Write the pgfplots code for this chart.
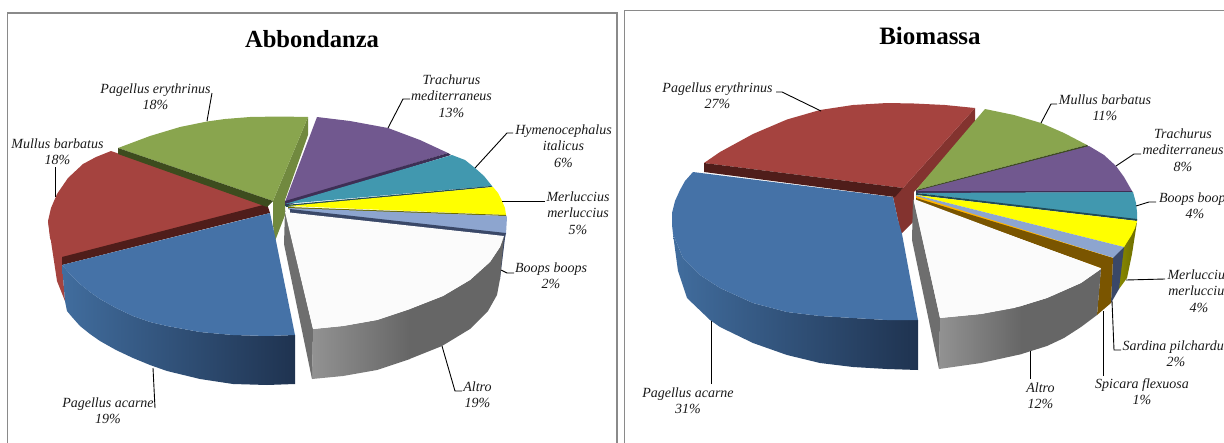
\documentclass[border=0pt]{standalone}
\usepackage{pgfplots}
\pgfplotsset{compat=1.18}
\usepackage{fontspec}
\setmainfont{Liberation Serif}
\definecolor{cRed}{HTML}{A5433F}
\definecolor{cRedWall}{HTML}{83332F}
\definecolor{cRedDark}{HTML}{4F1D1A}
\definecolor{cGreen}{HTML}{89A54E}
\definecolor{cGreenWall}{HTML}{71893F}
\definecolor{cGreenDark}{HTML}{3D4C1E}
\definecolor{cPurple}{HTML}{71588F}
\definecolor{cPurpleDark}{HTML}{3E2F55}
\definecolor{cTeal}{HTML}{4198AF}
\definecolor{cTealDark}{HTML}{1F4A57}
\definecolor{cBlue}{HTML}{4572A7}
\definecolor{cBlueL}{HTML}{416D9E}
\definecolor{cBlueR}{HTML}{1F3350}
\definecolor{cYellow}{HTML}{FFFF00}
\definecolor{cOlive}{HTML}{6B6B00}
\definecolor{cSky}{HTML}{8DA5CF}
\definecolor{cSkyDark}{HTML}{3A4868}
\definecolor{cOrange}{HTML}{FFB400}
\definecolor{cBrown}{HTML}{7A5500}
\definecolor{cWhite}{HTML}{FBFBFB}
\definecolor{cGrayA}{HTML}{929292}
\definecolor{cGrayB}{HTML}{666666}
\definecolor{cSide}{HTML}{6E6E6E}
\definecolor{cFrame}{HTML}{8A8A8A}
\newcommand{\face}[2]{\addplot[draw=none,fill=#1,line join=round,forget plot] coordinates {#2};}
\newcommand{\wall}[4]{\addplot[draw=none,left color=#1,middle color=#2,right color=#3,forget plot] coordinates {#4};}
\newcommand{\leader}[1]{\addplot[black,line width=0.9pt,forget plot] coordinates {#1};}
\tikzset{lbl/.style={inner sep=0pt,align=center,text=black!90,font=\fontsize{14}{16.3}\selectfont\itshape},
  ttl/.style={inner sep=0pt,text=black,font=\bfseries}}
\begin{document}
\begin{tikzpicture}
\path[use as bounding box,clip] (0,0) rectangle (1224pt,442pt);
\begin{axis}[at={(0,0)},anchor=south west,scale only axis,width=1224pt,height=442pt,
  xmin=0,xmax=1224,ymin=0,ymax=442,y dir=reverse,axis lines=none,clip=true]
% chart frames
\addplot[cFrame,line width=1.1pt,forget plot] coordinates {(7.5,460)(7.5,13)(617,13)(617,460)};
\addplot[cFrame,line width=1.1pt,forget plot] coordinates {(624.5,460)(624.5,10.5)(1240,10.5)};

% ---- Abbondanza ----
\face{cGreenWall}{(308,117)(273,201)(273,225)(275,241)(285,215)(285,200)(308,135)}
\face{cRed}{(48,221)(52,248)(57,281)(65,301)(62,265)(62,258)}
\face{cRed}{(111,151)(96,157)(83,164)(68,178)(57,194)(51,208)(48,221)(50,238)(56,252)(62,258)(267,205)}
\face{cRedDark}{(62,257)(62,265)(237,221)(270,213)(267,204)}
\face{cGreen}{(308,117)(280,116.5)(250,117)(225,119)(207,121.5)(180,127)(150,136)(118,148)(273,201)}
\face{cGreenDark}{(118,148)(118,154)(267,207)(273,201)}
\wall{cBlueL}{cBlueR!50!cBlueL}{cBlueR}{(62,265)(70,274)(80,284)(90,292)(100,299)(116,308)(133,316)(150,322)(167,326)(200,332)(233,335)(267,336)(295,335)(295,384)(267,385)(233,384)(200,379)(167,371)(150,365)(133,358)(116,350)(100,341)(90,334)(80,326)(72,317)(67,311)(65,301)}
\face{cBlue}{(62,265)(70,274)(80,284)(90,292)(100,299)(116,308)(133,316)(150,322)(167,326)(200,332)(233,335)(267,336)(295,335)(276,241)(270,213)}
\face{cPurple}{(317,117)(350,121)(388,128)(420,140)(448,153)(285,202)}
\face{cPurpleDark}{(448,153)(451,155)(285,206)(285,201)}
\face{cTeal}{(452,155)(465,160)(475,168)(484,176)(492,186)(285,204)}
\face{cTealDark}{(491,186)(493,187)(286,207)(285,205)}
\face{cYellow}{(493,187)(498,193)(502,201)(505,208)(506,215)(288,206)}
\face{cOlive}{(506,215)(506,216)(288,209)(288,207)}
\face{cSky}{(506,216)(507,217)(506,234)(290,210)(288,208)}
\face{cSkyDark}{(506,233)(505,238)(500,279)(497,279)(503,240)(290,213)(290,209)}
\addplot[draw=none,left color=cGrayA,right color=cGrayB,forget plot] coordinates {(313,329)(343,326)(377,320)(410,309)(410,359)(377,370)(343,376)(312,379)};
\face{cGrayB}{(409.5,309)(443,296)(470,280)(490,262)(500,247)(504,236)(500,279)(497,295)(488,311)(470,329)(442,346)(409.5,359)}
\face{cSide}{(285,210)(313,329)(312,379)(284,244)}
\face{cWhite}{(285,212)(504,236)(500,247)(490,262)(470,280)(443,296)(410,309)(377,320)(343,326)(313,329)}

\leader{(212,93)(207,121)}
\leader{(55,167)(55,197)}
\leader{(410,99)(403,99)(388,128)}
\leader{(513,133)(507,133)(475,168)}
\leader{(545,201)(502,201)}
\leader{(514,273)(507,273)(501,270)}
\leader{(462,391)(455,391)(442,346)}
\leader{(155,408)(153,368)}

\node[ttl,font=\fontsize{24.6}{28}\selectfont\bfseries] at (axis cs:312,39) {Abbondanza};
\node[lbl] at (axis cs:155.5,96.5) {Pagellus erythrinus\\18\%};
\node[lbl] at (axis cs:57.5,151.5) {Mullus barbatus\\18\%};
\node[lbl] at (axis cs:451.5,96) {Trachurus\\mediterraneus\\13\%};
\node[lbl] at (axis cs:563.5,146) {Hymenocephalus\\italicus\\6\%};
\node[lbl] at (axis cs:578,213) {Merluccius\\merluccius\\5\%};
\node[lbl] at (axis cs:551,276) {Boops boops\\2\%};
\node[lbl] at (axis cs:477.5,395) {Altro\\19\%};
\node[lbl] at (axis cs:108,411) {Pagellus acarne\\19\%};

% ---- Biomassa ----
\face{cRedWall}{(975,108)(903,188)(893,197)(901,234)(913,222)(914,192)(975,125)}
\wall{cBlueL}{cBlueR!50!cBlueL}{cBlueR}{(673,234)(683,258)(700,275)(720,288)(753,303)(787,312)(820,316)(853,318)(887,320)(918,320)(918,370)(887,369)(853,367)(820,363)(787,355)(753,343)(720,327)(710,320)(687,298)(678,271)(675,249)}
\face{cBlue}{(693,172)(685,181)(680,190)(675,201)(672,213)(672,225)(673,234)(683,258)(700,275)(720,288)(753,303)(787,312)(820,316)(853,318)(887,320)(918,320)(902,234)(898,220)(893,197)}
\face{cRed}{(975,108)(945,105)(914,103.5)(887,103)(853,105)(820,110)(787,119.5)(753,134)(720,152)(704,163)(903,188)}
\face{cRedDark}{(704,163)(704,172)(895,197)(903,188)}
\face{cGreen}{(985,109)(1014,115)(1041,123)(1064,133)(1087,145)(916,190)}
\face{cGreenDark}{(1087,145)(1089,147)(916,192)(916,190)}
\face{cPurple}{(1089,146)(1104,155)(1116,166)(1124,177)(1132,191)(916,191)}
\face{cPurpleDark}{(1132,191)(1133,192.5)(916,193)(916,191)}
\face{cTeal}{(1133,192)(1136,203)(1137,212)(1137,220)(916,193)}
\face{cTealDark}{(1137,219)(1137,221)(916,195)(916,193)}
\wall{cOlive!80!yellow}{cOlive}{cOlive}{(1137,222)(1132,254)(1127,278)(1119,289)(1122,252)(1124,247)}
\face{cYellow}{(1137,221)(1135,228)(1131,236)(1124,247)(916,195)}
\face{cSky}{(1124,247)(1114,258)(916,197)(916,195)}
\face{cSkyDark}{(1124,247)(1119,289)(1111,303)(1113,258)}
\face{cOrange}{(1113,258)(1101,268)(916,198)(916,196)}
\face{cBrown}{(1113,258)(1111,303)(1097,315)(1101,268)(916,201)(916,198)}
\addplot[draw=none,left color=cGrayA,right color=cGrayB,forget plot] coordinates {(940,318)(981,314)(1022,306)(1022,354)(981,363)(939,369)};
\face{cGrayB}{(1021.5,306)(1047,298)(1081,283)(1101,269)(1097,315)(1081,327)(1064,338)(1047,346)(1021.5,354)}
\face{cSide}{(913,198)(940,318)(939,369)(912,240)}
\face{cWhite}{(914,199)(1101,269)(1081,283)(1047,298)(1014,308)(981,314)(940,318)}

\leader{(776,92)(782,92)(821,111)}
\leader{(1057,104)(1051,104)(1041,123)}
\leader{(1141,154)(1134,154)(1116,166)}
\leader{(1156,202)(1149,202)(1136,206)}
\leader{(1165,279)(1126,280)}
\leader{(1121,350)(1114,350)(1112,301)}
\leader{(1103,376)(1103,311)}
\leader{(1030,379)(1030,351)}
\leader{(711,384)(711,321)}

\node[ttl,font=\fontsize{25}{28}\selectfont\bfseries] at (axis cs:930,36) {Biomassa};
\node[lbl] at (axis cs:717.5,96) {Pagellus erythrinus\\27\%};
\node[lbl] at (axis cs:1105,108) {Mullus barbatus\\11\%};
\node[lbl] at (axis cs:1183,150) {Trachurus\\mediterraneus\\8\%};
\node[lbl] at (axis cs:1195,206) {Boops boops\\4\%};
\node[lbl] at (axis cs:1199,291) {Merluccius\\merluccius\\4\%};
\node[lbl] at (axis cs:1176,354) {Sardina pilchardus\\2\%};
\node[lbl] at (axis cs:1142,392) {Spicara flexuosa\\1\%};
\node[lbl] at (axis cs:1040.5,396) {Altro\\12\%};
\node[lbl] at (axis cs:688,401) {Pagellus acarne\\31\%};
\end{axis}
\end{tikzpicture}
\end{document}
